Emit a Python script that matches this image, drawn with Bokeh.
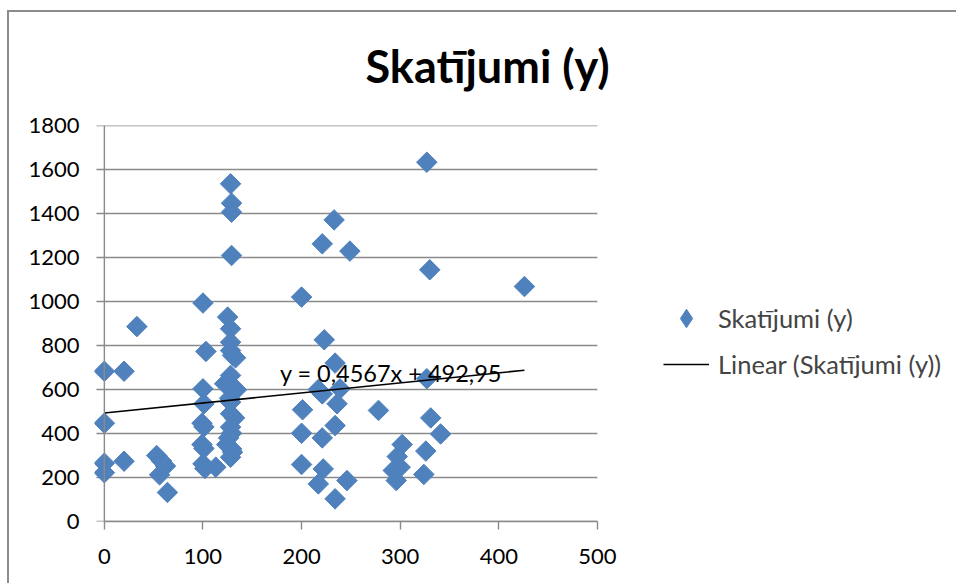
from bokeh.plotting import figure
from bokeh.models import (Range1d, Label, Legend, LegendItem, Span, Title,
                          FixedTicker, ColumnDataSource)
from bokeh.embed import file_html
from bokeh.resources import INLINE
import numpy as np

# Observations: x value and number of views (y)
views_x = [0, 0, 0, 0,
           20, 20,
           33,
           53, 58, 62, 56, 64,
           100, 103, 100, 101, 99, 101, 99, 101, 100, 102, 113,
           128, 129, 129, 129, 125, 128, 128, 128, 130, 133, 128, 122, 134, 127,
           128, 128, 132, 128, 129, 126, 124, 129, 130, 128,
           200, 201, 200, 200,
           221, 233, 249, 223, 234, 239, 217, 221, 236, 234, 221, 222, 217, 246, 234,
           278,
           327, 330, 327, 331, 341, 302, 326, 297, 300, 293, 296, 324,
           426]
views_y = [683, 447, 265, 222,
           683, 274,
           886,
           300, 275, 252, 212, 132,
           993, 773, 603, 535, 447, 430, 350, 332, 262, 241, 247,
           1535, 1447, 1406, 1209, 929, 876, 815, 777, 755, 744, 664, 626, 599, 560,
           542, 490, 471, 429, 401, 380, 350, 330, 315, 292,
           1020, 508, 401, 259,
           1262, 1371, 1229, 826, 720, 603, 600, 580, 535, 436, 380, 239, 171, 186, 103,
           505,
           1633, 1144, 649, 471, 398, 350, 320, 295, 247, 232, 186, 214,
           1068]

# Linear trendline coefficients
slope = 0.4567
intercept = 492.95

x_ticks = [0, 100, 200, 300, 400, 500]
y_ticks = [0, 200, 400, 600, 800, 1000, 1200, 1400, 1600, 1800]

title_text = "Skatījumi (y)"
series_name = "Skatījumi (y)"
trend_name = "Linear (Skatījumi (y))"
equation_text = "y = 0,4567x + 492,95"

FONT = "Lato"
GRID = "#8a8a8a"
BORDER = "#8c8c8c"
BLUE = "#4F81BD"

X_MAX = 500
TICK_LEN = 8  # outward tick length in x data units (~8 px)

# The plot frame runs to the right edge so the legend can sit beside the plot area
p = figure(width=956, height=583, output_backend="svg", toolbar_location=None,
           x_range=Range1d(-10, 864.2), y_range=Range1d(0, 1800),
           min_border_left=94, min_border_right=0,
           min_border_top=125, min_border_bottom=62)
p.outline_line_color = None
p.background_fill_alpha = 0
p.border_fill_alpha = 0
# chart area border (left and top edges) painted behind the transparent canvas
p.styles = {
    "background": (f"linear-gradient({BORDER}, {BORDER}) 7px 10px / 2px 100% no-repeat, "
                   f"linear-gradient({BORDER}, {BORDER}) 7px 10px / 100% 2px no-repeat, "
                   "white"),
}

# axes
p.xaxis.ticker = FixedTicker(ticks=x_ticks)
p.yaxis.ticker = FixedTicker(ticks=y_ticks)
for ax in (p.xaxis[0], p.yaxis[0]):
    ax.minor_tick_line_color = None
    ax.major_tick_in = 0
    ax.major_label_text_font = FONT
    ax.major_label_text_font_size = "22px"
    ax.major_label_text_color = "black"
    ax.axis_line_color = GRID
    ax.axis_line_width = 1.4
    ax.major_tick_line_color = GRID
    ax.major_tick_line_width = 1.4
p.xaxis.bounds = (0, X_MAX)
p.xaxis.major_tick_out = 8
p.xaxis.major_label_standoff = 19
p.yaxis.axis_line_color = None
p.yaxis.major_tick_line_color = None
p.yaxis.major_tick_out = 0
p.yaxis.major_label_standoff = 15

p.grid.grid_line_color = None
# horizontal gridlines across the plot area, starting at the outward tick
p.segment(x0=-TICK_LEN, x1=X_MAX, y0=y_ticks, y1=y_ticks,
          line_color=GRID, line_width=1.4)

# vertical value axis drawn at x = 0
p.add_layout(Span(location=0, dimension="height", line_color=GRID, line_width=1.4))

src = ColumnDataSource(dict(x=views_x, y=views_y))
pts = p.scatter("x", "y", source=src, marker="square", angle=np.pi / 4, size=14.5,
                fill_color=BLUE, line_color=BLUE)
# diamond swatch for the legend (not drawn in the plot area)
swatch = p.scatter("x", "y", source=src, marker="diamond", size=12,
                   fill_color=BLUE, line_color=BLUE, visible=False)

tx = [0, max(views_x)]
ty = [slope * v + intercept for v in tx]
trend = p.line(tx, ty, line_color="black", line_width=1.6)

p.add_layout(Label(x=178, y=677, text=equation_text, text_font=FONT,
                   text_font_size="23.5px", text_baseline="middle", text_color="black"))

# chart title
p.add_layout(Title(text=title_text, text_font=FONT, text_font_style="bold",
                   text_font_size="45px", align="left", offset=271, standoff=66,
                   text_color="black"), "above")

legend = Legend(items=[LegendItem(label=series_name, renderers=[swatch]),
                       LegendItem(label=trend_name, renderers=[trend])],
                location=(569, 134), margin=0, padding=0, spacing=0,
                glyph_width=46, glyph_height=46, label_height=20, label_standoff=9,
                label_text_font=FONT, label_text_font_size="25.5px",
                border_line_color=None, background_fill_alpha=0)
p.add_layout(legend)

open("out.html", "w").write(file_html(p, INLINE))
